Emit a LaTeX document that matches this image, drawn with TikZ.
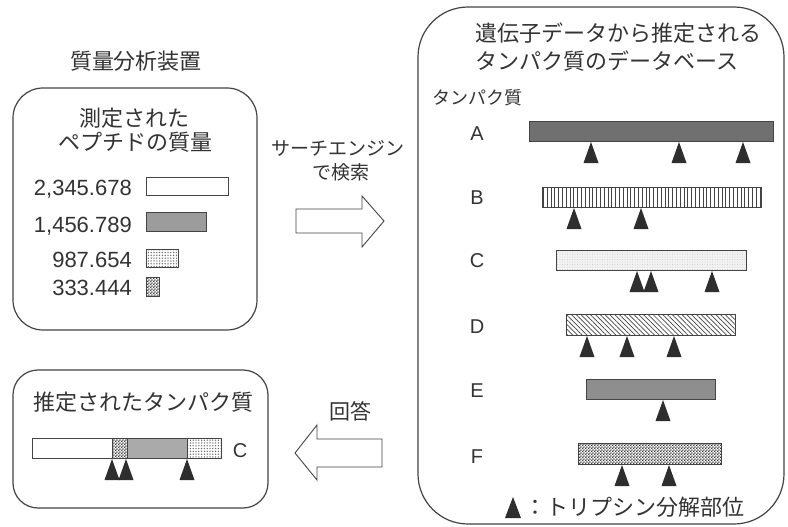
\documentclass[tikz,border=0pt]{standalone}
\usepackage{fontspec}
\setmainfont{Liberation Sans}
\newfontfamily\jp{Noto Sans CJK JP}
\usetikzlibrary{patterns,patterns.meta}
\pgfdeclarepatternformonly{checkerb}{\pgfpointorigin}{\pgfpoint{3.2pt}{3.2pt}}{\pgfpoint{3.2pt}{3.2pt}}{%
  \pgfpathrectangle{\pgfpointorigin}{\pgfpoint{1.6pt}{1.6pt}}%
  \pgfpathrectangle{\pgfpoint{1.6pt}{1.6pt}}{\pgfpoint{1.6pt}{1.6pt}}%
  \pgfusepath{fill}}
\definecolor{ink}{HTML}{333333}
\definecolor{lin}{HTML}{444444}
\definecolor{tricol}{HTML}{2E2E2E}
\definecolor{grayA}{HTML}{707070}
\definecolor{grayE}{HTML}{8E8E8E}
\definecolor{grayM}{HTML}{9C9C9C}
\definecolor{grayS}{HTML}{AAAAAA}
\tikzset{
  box/.style={draw=lin, line width=1.2pt, rounded corners=#1},
  bar/.style={draw=lin, line width=0.8pt},
  cut/.style={fill=tricol},
  jt/.style={font=\jp\fontsize{22}{26}\selectfont, text=ink, inner sep=0pt},
  jsm/.style={font=\jp\fontsize{19}{23}\selectfont, text=ink, inner sep=0pt},
  num/.style={font=\fontsize{22}{26}\selectfont, text=ink, inner sep=0pt},
  lab/.style={font=\fontsize{20}{22}\selectfont, text=ink, inner sep=0pt},
  barrow/.style={draw=lin, line width=0.9pt, fill=white, line join=miter},
  pwhite/.style={bar, fill=white},
  pstripe/.style={bar, preaction={fill=white}, pattern={Lines[angle=90,distance=3.8pt,line width=0.8pt]}, pattern color=lin},
  pdiag/.style={bar, preaction={fill=white}, pattern={Lines[angle=-45,distance=3.4pt,line width=0.7pt]}, pattern color=lin},
  pdots/.style={bar, preaction={fill=white}, pattern={Dots[distance=2.8pt,radius=0.75pt]}, pattern color=gray!85!black},
  pcheck/.style={bar, preaction={fill=white}, pattern=checkerb, pattern color=black!75},
  pspeck/.style={bar, preaction={fill=gray!10}, pattern={Dots[distance=2.5pt,radius=0.4pt]}, pattern color=gray!50},
}
\newcommand\cutmark[2]{\fill[cut] ({#1-7.5},{#2+21}) -- (#1,#2) -- ({#1+7.5},{#2+21}) -- cycle;}
\begin{document}
\begin{tikzpicture}[x=1pt,y=-1pt]
\fill[white] (0,0) rectangle (788,527);
\useasboundingbox (0,0) rectangle (788,527);

% ---------- left top: mass spectrometer ----------
\node[jt, anchor=base] (msTitle) at (136,70) {質量分析装置};
\draw[box=30pt] (13,88) rectangle (257,330);
\node[jt, anchor=base] (msHead1) at (134,126) {測定された};
\node[jt, anchor=base] (msHead2) at (135.5,150) {ペプチドの質量};
\node[num, anchor=base east] (m1) at (132,195) {2,345.678};
\node[num, anchor=base east] (m2) at (132,232) {1,456.789};
\node[num, anchor=base east] (m3) at (132,267) {987.654};
\node[num, anchor=base east] (m4) at (132,295) {333.444};
\draw[pwhite] (146,177) rectangle (228,195);
\draw[bar, fill=grayM] (146,212) rectangle (206,231);
\draw[pdots] (146,249) rectangle (178,267);
\draw[pcheck] (146,277) rectangle (159,296);

% ---------- search arrow ----------
\node[jsm, anchor=base] (srch1) at (338,155) {サーチエンジン};
\node[jsm, anchor=base] (srch2) at (341,179) {で検索};
\draw[barrow] (296,209) -- (362,209) -- (362,196) -- (384,221) -- (362,247) -- (362,233) -- (296,233) -- cycle;

% ---------- right: database ----------
\draw[box=50pt] (418,7) rectangle (784,524);
\node[jt, anchor=base west] (dbT1) at (475,42) {遺伝子データから推定される};
\node[jt, anchor=base west] (dbT2) at (475,70) {タンパク質のデータベース};
\node[font=\jp\fontsize{18}{22}\selectfont, text=ink, inner sep=0pt, anchor=base west] (dbCol) at (432,104) {タンパク質};

\node[lab, anchor=base] (lA) at (477,140) {A};
\node[lab, anchor=base] (lB) at (477,204) {B};
\node[lab, anchor=base] (lC) at (477,267) {C};
\node[lab, anchor=base] (lD) at (477,333) {D};
\node[lab, anchor=base] (lE) at (477,397) {E};
\node[lab, anchor=base] (lF) at (477,463) {F};

\draw[bar, fill=grayA] (529,121) rectangle (773,141);
\cutmark{591}{142}\cutmark{679}{142}\cutmark{743}{142}

\draw[pstripe] (542,187) rectangle (761,207);
\cutmark{574}{208}\cutmark{641}{208}

\draw[pspeck] (556,250) rectangle (746,270);
\cutmark{637}{271}\cutmark{651}{271}\cutmark{712}{271}

\draw[pdiag] (566,314) rectangle (735,335);
\cutmark{587}{336}\cutmark{627}{336}\cutmark{674}{336}

\draw[bar, fill=grayE] (586,379) rectangle (715,399);
\cutmark{663}{400}

\draw[pcheck] (578,443) rectangle (721,464);
\cutmark{622}{465}\cutmark{669}{465}

\fill[cut] (505,518) -- (513,497) -- (521,518) -- cycle;
\node[jt, anchor=base west] (legend) at (524,515) {：トリプシン分解部位};

% ---------- answer arrow ----------
\node[font=\jp\fontsize{21}{25}\selectfont, text=ink, inner sep=0pt, anchor=base] (ans) at (350,419) {回答};
\draw[barrow] (382,439) -- (317,439) -- (317,425) -- (295,453) -- (317,480) -- (317,467) -- (382,467) -- cycle;

% ---------- left bottom: estimated protein ----------
\draw[box=25pt] (13,370) rectangle (268,508);
\node[jt, anchor=base] (estT) at (143.5,410) {推定されたタンパク質};
\draw[pwhite] (32,438) rectangle (112,458);
\draw[pcheck] (112,438) rectangle (127,458);
\draw[bar, fill=grayS] (127,438) rectangle (187,458);
\draw[pdots] (187,438) rectangle (221,458);
\node[lab, anchor=base] (estC) at (240,457) {C};
\cutmark{112}{459}\cutmark{126}{459}\cutmark{187}{459}
\end{tikzpicture}
\end{document}
